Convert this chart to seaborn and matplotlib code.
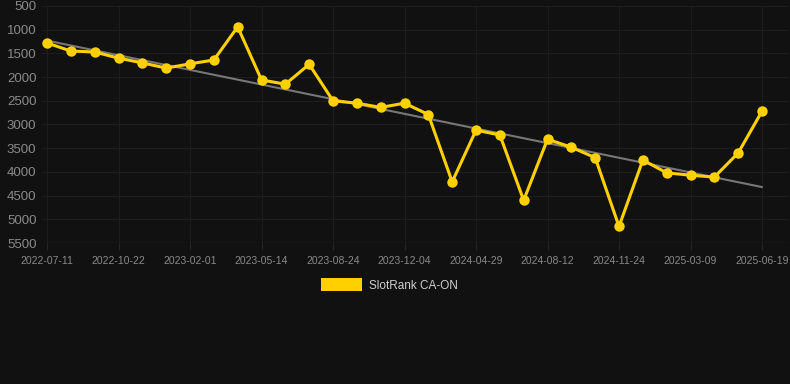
import numpy as np
import pandas as pd
import matplotlib
matplotlib.use("Agg")
import matplotlib.pyplot as plt
import seaborn as sns
from matplotlib.patches import Patch

# ==========================================
# Data
# ==========================================
tick_dates = ["2022-07-11", "2022-10-22", "2023-02-01", "2023-05-14",
              "2023-08-24", "2023-12-04", "2024-04-29", "2024-08-12",
              "2024-11-24", "2025-03-09", "2025-06-19"]

rank = [1280, 1450, 1470, 1600, 1700, 1810, 1720, 1640, 940, 2060,
        2150, 1730, 2500, 2550, 2640, 2550, 2790, 4210, 3120, 3220,
        4600, 3310, 3480, 3700, 5150, 3750, 4020, 4070, 4110, 3600,
        2720]

trend_start = 1230
trend_end = 4320

df = pd.DataFrame({"pos": range(len(rank)), "rank": rank})

# ==========================================
# Style
# ==========================================
bg = "#111111"
sns.set_theme(style="dark")
plt.rcParams["font.family"] = ["Liberation Sans", "DejaVu Sans"]
plt.rcParams["figure.facecolor"] = bg
plt.rcParams["axes.facecolor"] = bg

fig = plt.figure(figsize=(7.9, 3.84), dpi=100)
ax = fig.add_axes([42 / 790, 1 - 243 / 384, (788 - 42) / 790, (243 - 6) / 384])

# trend line
ax.plot([0, len(rank) - 1], [trend_start, trend_end], color="#777777", lw=1.5, zorder=2)

sns.lineplot(data=df, x="pos", y="rank", ax=ax, color="#FFD000", lw=2.2,
             marker="o", markersize=7.5, markeredgewidth=0, zorder=3)

ax.set_ylim(5500, 500)
ax.set_xlim(-0.21, 31.09)
ax.set_yticks(np.arange(500, 5501, 500))
ax.set_xticks(np.arange(0, len(rank), 3))
ax.set_xticklabels(tick_dates)
ax.set_xlabel("")
ax.set_ylabel("")

ax.grid(True, color="#1d1d1d", lw=0.8)
for s in ax.spines.values():
    s.set_visible(False)
ax.axhline(5500, color="#282828", lw=1, zorder=1)

ax.tick_params(axis="y", colors="#8a8a8a", labelsize=9.5, length=0, pad=4)
ax.tick_params(axis="x", colors="#262626", labelcolor="#8a8a8a", labelsize=7.5,
               length=5, width=0.8, bottom=True, pad=4)

handle = Patch(facecolor="#FFD000", edgecolor="none")
fig.legend([handle], ["SlotRank CA-ON"], loc="center",
           bbox_to_anchor=(0.493, 1 - 285 / 384),
           frameon=False, handlelength=3.4, handleheight=1.2, handletextpad=0.6,
           fontsize=8.5, labelcolor="#d0d0d0")

fig.savefig("out.png", dpi=100, facecolor=bg)
